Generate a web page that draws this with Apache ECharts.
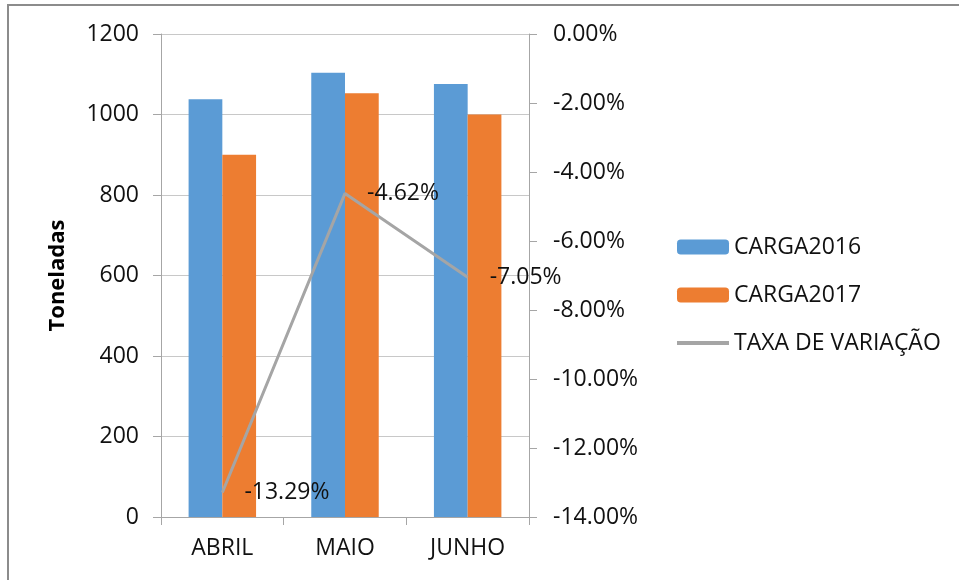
<!DOCTYPE html>
<html>
<head>
<meta charset="utf-8">
<script src="https://cdn.jsdelivr.net/npm/echarts@6/dist/echarts.min.js"></script>
<style>
  html, body { margin: 0; padding: 0; background: #fff; }
  #chart { width: 959px; height: 580px; }
</style>
</head>
<body>
<div id="chart"></div>
<script>
  // dados
  var meses = ['ABRIL', 'MAIO', 'JUNHO'];
  var carga2016 = [1038, 1104, 1076];
  var carga2017 = [900, 1053, 1000];
  var taxaVariacao = [-13.29, -4.62, -7.05];

  var fonte = 'Open Sans';
  var corTexto = '#111';
  var chart = echarts.init(document.getElementById('chart'));

  var option = {
    animation: false,
    textStyle: { fontFamily: fonte },
    graphic: [{
      type: 'rect',
      shape: { x: 8, y: 5, width: 1100, height: 1100 },
      style: { fill: 'none', stroke: '#8c8c8c', lineWidth: 2 },
      silent: true
    }],
    grid: { left: 161, right: 430, top: 34, bottom: 63 },
    legend: {
      orient: 'vertical',
      left: 670,
      top: 229,
      itemWidth: 52,
      itemHeight: 15,
      itemGap: 22,
      textStyle: { fontSize: 23, color: corTexto, lineHeight: 26, fontFamily: fonte },
      data: [
        'CARGA2016',
        'CARGA2017',
        {
          name: 'TAXA DE VARIAÇÃO',
          itemStyle: { color: 'rgba(0,0,0,0)', borderWidth: 0 },
          lineStyle: { color: '#a5a5a5', width: 4 }
        }
      ]
    },
    xAxis: {
      type: 'category',
      data: meses,
      axisLine: { lineStyle: { color: '#a6a6a6', width: 1 } },
      axisTick: { show: true, length: 8, lineStyle: { color: '#a6a6a6' } },
      axisLabel: { fontSize: 23, color: corTexto, margin: 20 }
    },
    yAxis: [{
      type: 'value',
      min: 0,
      max: 1200,
      interval: 200,
      name: 'Toneladas',
      nameLocation: 'middle',
      nameRotate: 90,
      nameGap: 92,
      nameTextStyle: { fontSize: 22, fontWeight: 'bold', color: '#000' },
      axisLine: { show: true, lineStyle: { color: '#a6a6a6' } },
      axisTick: { show: true, length: 8, lineStyle: { color: '#a6a6a6' } },
      axisLabel: {
        fontSize: 23, color: corTexto, margin: 22,
        formatter: function (v) { return String(v); }
      },
      splitLine: { show: true, lineStyle: { color: '#c8c8c8' } }
    }, {
      type: 'value',
      min: -14,
      max: 0,
      interval: 2,
      position: 'right',
      axisLine: { show: true, lineStyle: { color: '#a6a6a6' } },
      axisTick: { show: true, length: 8, lineStyle: { color: '#a6a6a6' } },
      axisLabel: {
        fontSize: 23, color: corTexto, margin: 24,
        formatter: function (v) { return v.toFixed(2) + '%'; }
      },
      splitLine: { show: false }
    }],
    series: [{
      name: 'CARGA2016',
      type: 'bar',
      data: carga2016,
      barGap: '0%',
      barCategoryGap: '45%',
      itemStyle: { color: '#5b9bd5' }
    }, {
      name: 'CARGA2017',
      type: 'bar',
      data: carga2017,
      itemStyle: { color: '#ed7d31' }
    }, {
      name: 'TAXA DE VARIAÇÃO',
      type: 'line',
      yAxisIndex: 1,
      data: taxaVariacao,
      symbol: 'circle',
      symbolSize: 0.1,
      z: 5,
      lineStyle: { color: '#a5a5a5', width: 3 },
      itemStyle: { color: '#a5a5a5' },
      label: {
        show: true,
        position: 'right',
        distance: 22,
        fontSize: 23,
        color: corTexto,
        fontFamily: fonte,
        formatter: function (p) { return p.value.toFixed(2) + '%'; }
      }
    }]
  };

  chart.setOption(option);
</script>
</body>
</html>
